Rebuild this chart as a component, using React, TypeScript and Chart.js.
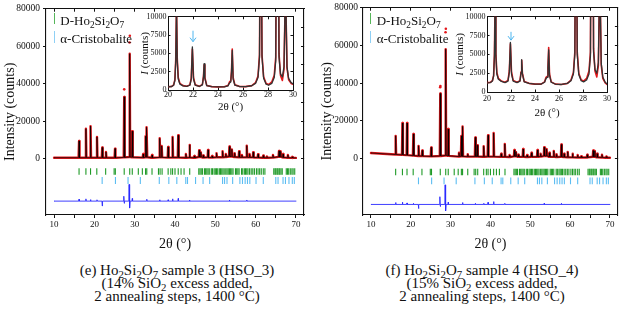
import React, { useEffect, useRef } from "react";
import { Chart, registerables } from "chart.js";

Chart.register(...registerables);

const SERIF = "'Liberation Serif', 'Times New Roman', Times, serif";

// ---------------- data ----------------
// Main pattern: reflection positions (2θ, °) and peak heights (counts)
const peakPos = [16.2, 17.9, 19.05, 20.65, 21.95, 22.88, 25.12, 27.4, 28.76, 29.4, 32.1, 32.7, 33.0, 34.3, 36.2, 36.7, 38.3, 39.4, 40.8, 42.7, 43.6, 44.8, 46.0, 46.4, 47.0, 48.2, 49.2, 50.3, 51.8, 52.6, 53.5, 54.1, 54.8, 55.9, 56.6, 57.8, 58.5, 59.4, 60.6, 61.9, 62.8, 64.3, 65.8, 66.2, 66.8, 68.0, 69.1];
const peakHeightL = [9500, 16000, 17400, 11600, 6000, 3600, 5400, 33000, 56000, 14700, 2500, 12000, 16800, 2000, 10900, 6800, 6300, 11600, 12500, 2500, 7400, 1500, 4600, 3500, 1800, 4700, 1500, 3000, 4000, 2500, 6500, 5000, 3000, 4000, 2000, 7000, 2500, 3500, 2400, 1700, 1200, 2000, 4200, 4000, 2500, 2000, 1000];
const peakHeightR = [12000, 18800, 18800, 13000, 6700, 4300, 5900, 34500, 58000, 15600, 3000, 12000, 17000, 2200, 11200, 7000, 6500, 12300, 13500, 2500, 7700, 1800, 4500, 3500, 2000, 5000, 1800, 3000, 4500, 2500, 6000, 5000, 3000, 4000, 2200, 7400, 2500, 3500, 2500, 1800, 1200, 2000, 4200, 4000, 2500, 2000, 1000];
const peakBaseL = [550, 550, 550, 550, 500, 500, 500, 700, 900, 800, 600, 800, 800, 550, 700, 700, 600, 650, 650, 550, 600, 550, 900, 900, 650, 700, 600, 800, 800, 900, 1200, 1200, 900, 800, 700, 800, 700, 700, 600, 550, 500, 600, 1000, 1000, 700, 550, 450];
const peakBaseR = [2100, 1900, 1750, 1500, 1300, 1250, 1100, 1300, 1600, 1400, 1000, 1100, 1100, 950, 1000, 1000, 900, 950, 950, 850, 850, 800, 1100, 1100, 850, 900, 750, 850, 900, 1000, 1300, 1300, 900, 850, 750, 850, 700, 650, 600, 550, 500, 550, 900, 900, 600, 500, 400];
const patternStartL = [10, 550];
const patternEndL = [70, 450];
const patternStartR = [10, 2900];
const patternEndR = [70, 400];

// Observed points lying above the calculated peak tops
const obsTopXL = [27.4, 28.72, 28.8];
const obsTopYL = [37000, 62000, 65600];
const obsTopXR = [27.38, 27.43, 28.72, 28.8];
const obsTopYR = [37800, 38400, 67000, 68800];

// Difference curve (Yobs - Ycalc, offset)
const diffBaseL = -22600;
const diffBaseR = -24400;
const diffPos = [16.2, 17.9, 19.05, 20.65, 21.95, 27.3, 27.45, 28.62, 28.8, 29.4, 33.0, 36.2, 38.3, 39.4, 40.8, 43.6, 53.5, 57.8];
const diffValL = [-21600, -21400, -21800, -21900, -25200, -20000, -23800, -13700, -26300, -21200, -21600, -21900, -21900, -21400, -21200, -22000, -22000, -22000];
const diffValR = [-23400, -23200, -23600, -23800, -26600, -20300, -25500, -14000, -27800, -23200, -23400, -23800, -23800, -23300, -22900, -23800, -23800, -23800];

// Bragg reflection markers
const braggD = [16.2, 17.9, 19.05, 20.6, 22.8, 24.9, 25.2, 27.4, 28.77, 29.4, 30.9, 31.9, 32.7, 33.0, 34.3, 35.9, 36.3, 36.8, 38.3, 38.97, 39.4, 40.0, 40.8, 41.5, 42.25, 43.65, 45.9, 46.2, 46.5, 46.8, 47.3, 47.6, 47.9, 48.2, 48.5, 49.0, 49.3, 49.7, 50.0, 50.3, 50.6, 51.0, 51.3, 51.6, 51.9, 52.2, 52.6, 52.9, 53.2, 53.5, 53.8, 54.1, 54.4, 55.0, 55.3, 55.6, 55.9, 56.5, 56.8, 57.2, 57.5, 57.8, 58.1, 58.5, 58.9, 59.3, 59.7, 60.2, 60.6, 61.0, 61.4, 61.9, 62.3, 64.5, 64.8, 65.0, 65.3, 65.5, 65.8, 66.0, 66.3, 66.6, 67.6, 67.9, 68.2, 68.6, 69.0, 69.3, 69.7];
const braggC = [21.93, 25.23, 28.35, 31.4, 36.1, 38.47, 40.45, 42.67, 43.1, 45.1, 46.96, 48.6, 51.8, 52.3, 52.9, 54.3, 56.1, 56.74, 57.4, 57.98, 58.56, 60.1, 61.9, 65.0, 65.56, 66.8, 67.4, 68.27, 69.1, 69.6];
const braggRowDL = -6800;
const braggRowCL = -11600;
const braggRowDR = -7200;
const braggRowCR = -11900;

// Axis ticks
const mainXTicks = [10, 15, 20, 25, 30, 35, 40, 45, 50, 55, 60, 65, 70];
const mainYTicks = [0, 20000, 40000, 60000, 80000];
const mainYMinorTicks = [0, 10000, 20000, 30000, 40000, 50000, 60000, 70000, 80000];
const insetXTicks = [20, 22, 24, 26, 28, 30];
const insetYTicks = [0, 2500, 5000, 7500, 10000];

// Inset (20–30°) pattern
const insetX = [20.0, 20.3, 20.45, 20.55, 20.62, 20.68, 20.74, 20.82, 20.95, 21.2, 21.5, 21.75, 21.86, 21.95, 22.04, 22.18, 22.5, 22.75, 22.84, 22.89, 22.95, 23.1, 23.5, 24.0, 24.5, 24.8, 24.92, 25.02, 25.08, 25.14, 25.21, 25.35, 25.7, 26.2, 26.7, 27.0, 27.2, 27.32, 27.42, 27.52, 27.65, 27.85, 28.05, 28.3, 28.5, 28.62, 28.76, 28.88, 29.0, 29.15, 29.28, 29.4, 29.52, 29.65, 29.85, 30.0];
const insetCalcL = [430, 480, 650, 1300, 4000, 11600, 4000, 1500, 800, 560, 500, 650, 1500, 5900, 1500, 650, 480, 700, 1800, 3600, 1600, 600, 450, 420, 430, 560, 950, 1100, 2500, 5400, 1500, 650, 480, 450, 580, 900, 1700, 4500, 33000, 4500, 1600, 800, 650, 900, 1700, 4000, 56000, 4500, 2200, 1800, 3200, 14700, 3200, 1600, 1000, 850];
const insetObsL = [450, 500, 700, 1400, 4200, 11600, 4300, 1700, 900, 600, 520, 700, 1600, 5600, 1700, 700, 500, 750, 1900, 3450, 1700, 620, 460, 430, 440, 620, 1100, 1250, 2600, 5600, 1700, 700, 500, 460, 600, 1000, 1900, 4800, 33000, 4800, 1800, 900, 750, 1100, 2000, 4500, 56000, 5000, 2000, 1300, 2800, 14700, 3000, 1400, 900, 800];
const insetCalcR = [1200, 1250, 1450, 2100, 4800, 13000, 4800, 2400, 1700, 1400, 1250, 1450, 2600, 6600, 2400, 1450, 1250, 1450, 2600, 4300, 2400, 1350, 1150, 1050, 1050, 1300, 1800, 1950, 3200, 5600, 2200, 1300, 1050, 1000, 1150, 1500, 2400, 5000, 34500, 5000, 2300, 1500, 1350, 1600, 2400, 4800, 58000, 5300, 3000, 2500, 3900, 15600, 3800, 2000, 1300, 1100];
const insetObsR = [1250, 1300, 1500, 2200, 5000, 13000, 5100, 2600, 1800, 1450, 1300, 1550, 2800, 6400, 2700, 1550, 1300, 1500, 2700, 4200, 2500, 1400, 1150, 1050, 1050, 1350, 1950, 2100, 3300, 5900, 2400, 1350, 1050, 1000, 1150, 1600, 2600, 5300, 34500, 5300, 2500, 1600, 1450, 1800, 2800, 5300, 58000, 5800, 2800, 2000, 3500, 15600, 3600, 1800, 1200, 1000];
const arrowX = 22;
const arrowFromL = 8100;
const arrowToL = 6600;
const arrowFromR = 8000;
const arrowToR = 6900;

// ---------------- table builders ----------------
type P = { x: number; y: number };
function patternPoints(start: number[], end: number[], pos: number[], h: number[], base: number[], hw: number): P[] {
  const pts: P[] = [{ x: start[0], y: start[1] }];
  pos.forEach((p, i) => {
    pts.push({ x: p - hw, y: base[i] }, { x: p, y: h[i] }, { x: p + hw, y: base[i] });
  });
  pts.push({ x: end[0], y: end[1] });
  return pts;
}
function spikePoints(base: number, pos: number[], val: number[], hw: number): P[] {
  const pts: P[] = [{ x: 10, y: base }];
  pos.forEach((p, i) => {
    pts.push({ x: p - hw, y: base }, { x: p, y: val[i] }, { x: p + hw, y: base });
  });
  pts.push({ x: 70, y: base });
  return pts;
}
const zipXY = (xs: number[], ys: number[]): P[] => xs.map((x, i) => ({ x, y: ys[i] }));
const rowPts = (xs: number[], y: number): P[] => xs.map((x) => ({ x, y }));

// ---------------- chart configs ----------------
const font = (size: number, style = "normal") => ({ family: SERIF, size, style });
const roundLine = { borderJoinStyle: "round", borderCapStyle: "round" };

type MainOpts = {
  W: number; H: number; L: number; R: number; T: number; B: number;
  pattern: P[]; obsTop: P[]; diff: P[]; dRow: P[]; cRow: P[];
  yTitlePad: number; yLabelPad: number; xTitlePad: number;
};

function mainConfig(o: MainOpts): any {
  const border = { display: true, color: "#111", width: 1.1 };
  return {
    type: "line",
    data: {
      datasets: [
        { data: o.pattern.map((p) => ({ ...p })), borderColor: "#000", borderWidth: 0.7, pointRadius: 0, order: 0, ...roundLine },
        { data: o.obsTop, showLine: false, pointRadius: 1.3, pointBackgroundColor: "#e3171b", pointBorderWidth: 0, order: 1 },
        { data: o.pattern.map((p) => ({ ...p })), borderColor: "#e3171b", borderWidth: 2.4, pointRadius: 0, order: 2, ...roundLine },
        { data: o.dRow, showLine: false, pointStyle: "line", pointRotation: 90, pointRadius: 3.2, pointBorderColor: "#1f9a27", pointBorderWidth: 1.1, order: 3 },
        { data: o.cRow, showLine: false, pointStyle: "line", pointRotation: 90, pointRadius: 3.4, pointBorderColor: "#5cbdf2", pointBorderWidth: 1.1, order: 3 },
        { data: o.diff, borderColor: "#2a2aff", borderWidth: 0.9, pointRadius: 0, order: 3, ...roundLine },
      ],
    },
    options: {
      responsive: false,
      animation: false,
      events: [],
      layout: { padding: 0 },
      plugins: { legend: { display: false }, tooltip: { enabled: false } },
      scales: {
        x: {
          type: "linear", position: "bottom", min: 8, max: 72,
          afterBuildTicks: (s: any) => { s.ticks = mainXTicks.map((v) => ({ value: v })); },
          afterFit: (s: any) => { s.height = o.H - o.B; },
          ticks: { autoSkip: false, maxRotation: 0, font: font(9), color: "#111", padding: 1, callback: (v: number) => (v % 10 === 0 ? String(v) : "") },
          grid: { drawOnChartArea: false, tickLength: 3, color: "#111" },
          border,
          title: { display: true, text: "2θ (°)", font: font(14), color: "#111", padding: { top: 0, bottom: o.xTitlePad } },
        },
        xTop: {
          type: "linear", position: "top", min: 8, max: 72,
          afterBuildTicks: (s: any) => { s.ticks = mainXTicks.map((v) => ({ value: v })); },
          afterFit: (s: any) => { s.height = o.T; },
          ticks: { display: false },
          grid: { drawOnChartArea: false, tickLength: -3, color: "#111" },
          border,
        },
        y: {
          type: "linear", position: "left", min: -30000, max: 80000,
          afterBuildTicks: (s: any) => { s.ticks = mainYTicks.map((v) => ({ value: v })); },
          afterFit: (s: any) => { s.width = o.L; },
          ticks: { font: font(9.5), color: "#111", padding: o.yLabelPad, callback: (v: number) => String(v) },
          grid: { drawOnChartArea: false, tickLength: 3, color: "#111" },
          border,
          title: { display: true, text: "Intensity (counts)", font: font(14), color: "#111", padding: { top: o.yTitlePad, bottom: 0 } },
        },
        yRight: {
          type: "linear", position: "right", min: -30000, max: 80000,
          afterBuildTicks: (s: any) => { s.ticks = mainYMinorTicks.map((v) => ({ value: v })); },
          afterFit: (s: any) => { s.width = o.W - o.R; },
          ticks: { display: false },
          grid: { drawOnChartArea: false, tickLength: -3, color: "#111" },
          border,
        },
      },
    },
  };
}

type InsetOpts = {
  W: number; H: number; L: number; R: number; T: number; B: number;
  calc: P[]; obs: P[]; arrowFrom: number; arrowTo: number;
  yTitleX: number; xTitlePad: number; xLabelPad: number;
};

function insetConfig(o: InsetOpts): any {
  const border = { display: true, color: "#111", width: 1 };
  const deco = {
    id: "insetDeco",
    beforeDraw(chart: any) {
      const { ctx, chartArea: a } = chart;
      ctx.save();
      ctx.fillStyle = "#fff";
      ctx.fillRect(a.left, a.top, a.right - a.left, a.bottom - a.top);
      ctx.restore();
    },
    afterDatasetsDraw(chart: any) {
      const { ctx } = chart;
      const x = chart.scales.x.getPixelForValue(arrowX);
      const y1 = chart.scales.y.getPixelForValue(o.arrowFrom);
      const y2 = chart.scales.y.getPixelForValue(o.arrowTo);
      ctx.save();
      ctx.strokeStyle = "#4fb6ef";
      ctx.lineWidth = 1;
      ctx.beginPath();
      ctx.moveTo(x, y1);
      ctx.lineTo(x, y2);
      ctx.moveTo(x - 3, y2 - 4);
      ctx.lineTo(x, y2);
      ctx.lineTo(x + 3, y2 - 4);
      ctx.stroke();
      ctx.restore();
    },
    afterDraw(chart: any) {
      const { ctx, chartArea: a } = chart;
      ctx.save();
      ctx.translate(o.yTitleX, (a.top + a.bottom) / 2);
      ctx.rotate(-Math.PI / 2);
      ctx.fillStyle = "#111";
      ctx.textBaseline = "middle";
      const fi = `italic 11px ${SERIF}`;
      const fn = `11px ${SERIF}`;
      ctx.font = fi;
      const w1 = ctx.measureText("I").width;
      ctx.font = fn;
      const w2 = ctx.measureText(" (counts)").width;
      const x0 = -(w1 + w2) / 2;
      ctx.font = fi;
      ctx.fillText("I", x0, 0);
      ctx.font = fn;
      ctx.fillText(" (counts)", x0 + w1, 0);
      ctx.restore();
    },
  };
  return {
    type: "line",
    data: {
      datasets: [
        { data: o.calc, borderColor: "#333", borderWidth: 1.3, pointRadius: 0, order: 0, ...roundLine },
        { data: o.obs, borderColor: "#e3171b", borderWidth: 1.6, pointRadius: 0, order: 1, ...roundLine },
      ],
    },
    plugins: [deco],
    options: {
      responsive: false,
      animation: false,
      events: [],
      layout: { padding: 0 },
      plugins: { legend: { display: false }, tooltip: { enabled: false } },
      scales: {
        x: {
          type: "linear", position: "bottom", min: 20, max: 30,
          afterBuildTicks: (s: any) => { s.ticks = insetXTicks.map((v) => ({ value: v })); },
          afterFit: (s: any) => { s.height = o.H - o.B; },
          ticks: { autoSkip: false, maxRotation: 0, font: font(8), color: "#111", padding: o.xLabelPad, callback: (v: number) => String(v) },
          grid: { drawOnChartArea: false, tickLength: -2.5, color: "#111" },
          border,
          title: { display: true, text: "2θ (°)", font: font(11), color: "#111", padding: { top: 0, bottom: o.xTitlePad } },
        },
        xTop: {
          type: "linear", position: "top", min: 20, max: 30,
          afterBuildTicks: (s: any) => { s.ticks = insetXTicks.map((v) => ({ value: v })); },
          afterFit: (s: any) => { s.height = o.T; },
          ticks: { display: false },
          grid: { drawOnChartArea: false, tickLength: -2.5, color: "#111" },
          border,
        },
        y: {
          type: "linear", position: "left", min: 0, max: 10000,
          afterBuildTicks: (s: any) => { s.ticks = insetYTicks.map((v) => ({ value: v })); },
          afterFit: (s: any) => { s.width = o.L; },
          ticks: { font: font(8), color: "#111", padding: 4, callback: (v: number) => String(v) },
          grid: { drawOnChartArea: false, tickLength: -2.5, color: "#111" },
          border,
        },
        yRight: {
          type: "linear", position: "right", min: 0, max: 10000,
          afterBuildTicks: (s: any) => { s.ticks = insetYTicks.map((v) => ({ value: v })); },
          afterFit: (s: any) => { s.width = o.W - o.R; },
          ticks: { display: false },
          grid: { drawOnChartArea: false, tickLength: -2.5, color: "#111" },
          border,
        },
      },
    },
  };
}

// ---------------- components ----------------
function ChartCanvas({ left, top, width, height, make }: { left: number; top: number; width: number; height: number; make: () => any }) {
  const ref = useRef<HTMLCanvasElement>(null);
  useEffect(() => {
    const chart = new Chart(ref.current as HTMLCanvasElement, make());
    return () => chart.destroy();
  }, []);
  return <canvas ref={ref} width={width} height={height} style={{ position: "absolute", left, top, width, height }} />;
}

const subStyle: React.CSSProperties = { fontSize: "0.72em", verticalAlign: "-0.28em", lineHeight: 0 };

function Legend({ x }: { x: number }) {
  return (
    <>
      <div style={{ position: "absolute", left: x - 0.75, top: 12.5, width: 1.5, height: 11.5, background: "#56b65a" }} />
      <div style={{ position: "absolute", left: x + 6, top: 13, fontSize: 13, lineHeight: "15px", whiteSpace: "nowrap", color: "#111" }}>
        D-Ho<sub style={subStyle}>2</sub>Si<sub style={subStyle}>2</sub>O<sub style={subStyle}>7</sub>
      </div>
      <div style={{ position: "absolute", left: x - 0.75, top: 31, width: 1.5, height: 12, background: "#8fd0f5" }} />
      <div style={{ position: "absolute", left: x + 6, top: 30.5, fontSize: 13, lineHeight: "15px", whiteSpace: "nowrap", color: "#111" }}>
        α-Cristobalite
      </div>
    </>
  );
}

function Caption({ cx, tag, n, pct }: { cx: number; tag: string; n: string; pct: string }) {
  return (
    <div style={{ position: "absolute", left: cx - 160, top: 263.5, width: 320, textAlign: "center", fontSize: 15, lineHeight: "13px", color: "#111" }}>
      <div>({tag}) Ho<sub style={subStyle}>2</sub>Si<sub style={subStyle}>2</sub>O<sub style={subStyle}>7</sub> sample {n} (HSO_{n})</div>
      <div>({pct}% SiO<sub style={subStyle}>2</sub> excess added,</div>
      <div>2 annealing steps, 1400 °C)</div>
    </div>
  );
}

export default function App() {
  const patternL = patternPoints(patternStartL, patternEndL, peakPos, peakHeightL, peakBaseL, 0.12);
  const patternR = patternPoints(patternStartR, patternEndR, peakPos, peakHeightR, peakBaseR, 0.12);

  const mainL = (): any =>
    mainConfig({
      W: 312, H: 256, L: 46, R: 304, T: 7, B: 215,
      pattern: patternL, obsTop: zipXY(obsTopXL, obsTopYL),
      diff: spikePoints(diffBaseL, diffPos, diffValL, 0.07),
      dRow: rowPts(braggD, braggRowDL), cRow: rowPts(braggC, braggRowCL),
      yTitlePad: 1.6, yLabelPad: 3, xTitlePad: 3.6,
    });
  const mainR = (): any =>
    mainConfig({
      W: 311, H: 256, L: 51, R: 309, T: 7, B: 215,
      pattern: patternR, obsTop: zipXY(obsTopXR, obsTopYR),
      diff: spikePoints(diffBaseR, diffPos, diffValR, 0.07),
      dRow: rowPts(braggD, braggRowDR), cRow: rowPts(braggC, braggRowCR),
      yTitlePad: 6.6, yLabelPad: 2, xTitlePad: 3.6,
    });
  const insetL = (): any =>
    insetConfig({
      W: 172, H: 108, L: 40, R: 168, T: 6, B: 82,
      calc: zipXY(insetX, insetCalcL), obs: zipXY(insetX, insetObsL),
      arrowFrom: arrowFromL, arrowTo: arrowToL,
      yTitleX: 17, xTitlePad: 2.4, xLabelPad: 3,
    });
  const insetR = (): any =>
    insetConfig({
      W: 172, H: 114, L: 43, R: 169, T: 6.5, B: 84,
      calc: zipXY(insetX, insetCalcR), obs: zipXY(insetX, insetObsR),
      arrowFrom: arrowFromR, arrowTo: arrowToR,
      yTitleX: 16, xTitlePad: 2.4, xLabelPad: 5,
    });

  return (
    <div style={{ position: "absolute", left: 0, top: 0, width: 623, height: 315, background: "#fff", fontFamily: SERIF, overflow: "hidden" }}>
      <ChartCanvas left={0} top={0} width={312} height={256} make={mainL} />
      <ChartCanvas left={312} top={0} width={311} height={256} make={mainR} />
      <ChartCanvas left={128} top={8} width={172} height={108} make={insetL} />
      <ChartCanvas left={444} top={8} width={172} height={114} make={insetR} />
      <Legend x={54.3} />
      <Legend x={370.7} />
      <Caption cx={177} tag="e" n="3" pct="14" />
      <Caption cx={482} tag="f" n="4" pct="15" />
    </div>
  );
}
